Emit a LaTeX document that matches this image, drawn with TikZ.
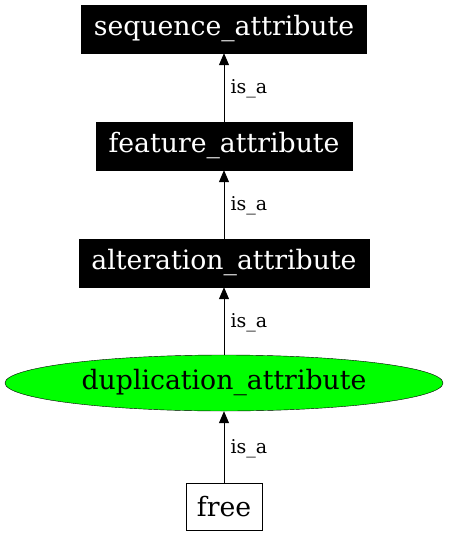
\documentclass[tikz,border=0pt]{standalone}
\usepackage{fontspec}
\setmainfont{DejaVu Serif}
\usetikzlibrary{arrows.meta,shapes.geometric}
\begin{document}
\begin{tikzpicture}[x=1pt,y=-1pt,
  nodefont/.style={font=\fontsize{26.7}{30}\selectfont},
  blackbox/.style={rectangle,fill=black,text=white,draw=black,inner sep=0pt,nodefont},
  greenell/.style={ellipse,fill=green,draw=black,inner sep=0pt,nodefont},
  whitebox/.style={rectangle,fill=white,draw=black,inner sep=0pt,nodefont},
  isa/.style={draw=black,line width=1pt,-{Triangle[length=12pt,width=10pt]}},
  lbl/.style={font=\fontsize{19}{22}\selectfont,anchor=west,inner sep=0pt,xshift=6pt,yshift=-1.5pt}]
\useasboundingbox (0,0) rectangle (448,536);
\node[blackbox,minimum width=285pt,minimum height=48pt] (seq) at (224,29) {sequence\_attribute};
\node[blackbox,minimum width=256pt,minimum height=48pt] (feat) at (224,146) {feature\_attribute};
\node[blackbox,minimum width=290pt,minimum height=48pt] (alt) at (224,263) {alteration\_attribute};
\node[greenell,minimum width=438pt,minimum height=56pt] (dup) at (224,383) {duplication\_attribute};
\node[whitebox,minimum width=76pt,minimum height=47pt] (free) at (224,506.5) {free};
\draw[isa] (feat.north) -- (seq.south) node[midway,lbl] {is\_a};
\draw[isa] (alt.north) -- (feat.south) node[midway,lbl] {is\_a};
\draw[isa] (dup.north) -- (alt.south) node[midway,lbl] {is\_a};
\draw[isa] (free.north) -- (dup.south) node[midway,lbl] {is\_a};
\end{tikzpicture}
\end{document}
